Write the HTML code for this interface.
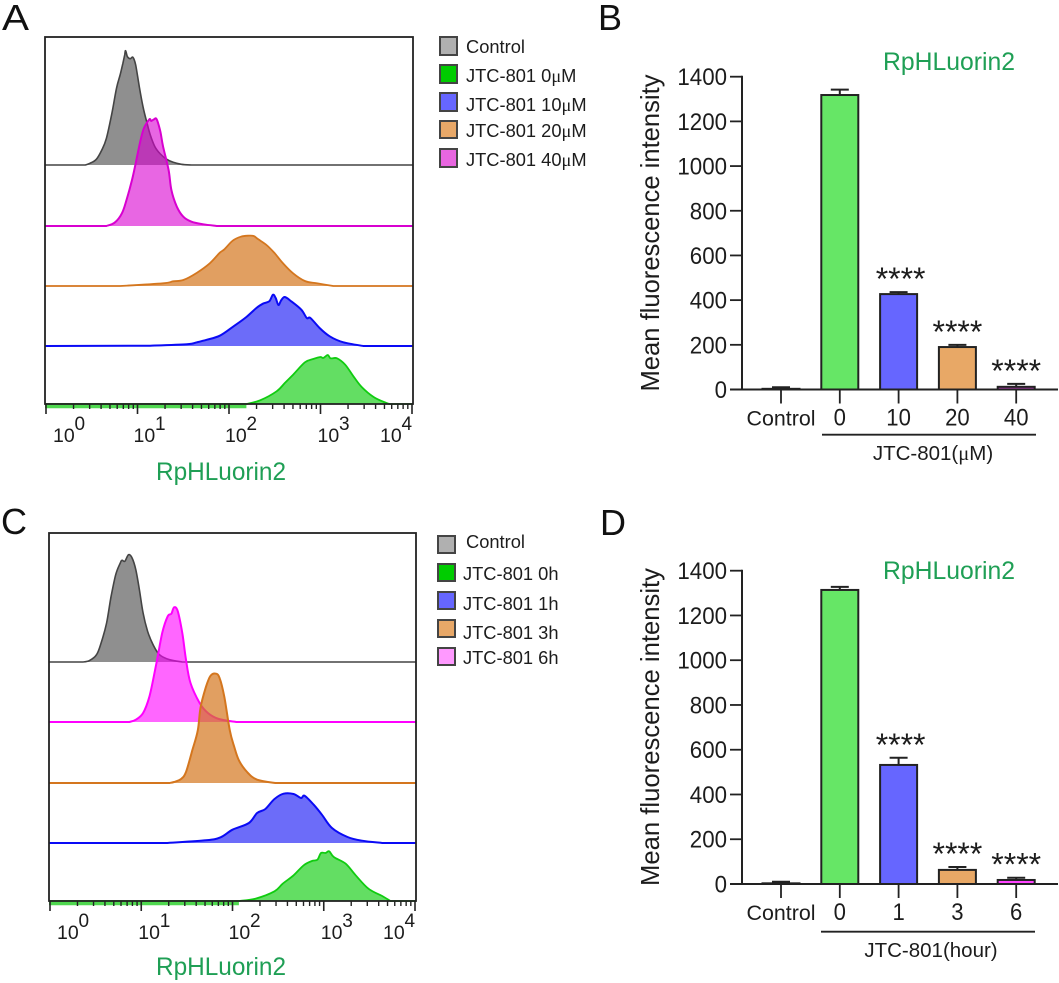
<!DOCTYPE html>
<html lang="en">
<head>
<meta charset="utf-8">
<title>RpHLuorin2 flow cytometry and mean fluorescence intensity</title>
<style>
html,body{margin:0;padding:0;background:#fff;}
svg{display:block;filter:blur(0.35px);}
text{font-family:"Liberation Sans",sans-serif;fill:#1c1c1c;}
.letter{font-size:36px;fill:#111;}
.leg{font-size:18.3px;}
.mu{font-family:"Liberation Serif",serif;}
.tt{font-size:24.7px;fill:#1f9f55;}
.xl{font-size:20.5px;}
.yt{font-size:26px;}
.sw{stroke:#444;stroke-width:2;}
</style>
</head>
<body>
<svg id="chart" xmlns="http://www.w3.org/2000/svg" width="1059" height="983" viewBox="0 0 1059 983">
  <rect x="0" y="0" width="1059" height="983" fill="#fff"/>
  <text class="letter" x="2" y="30" textLength="27" lengthAdjust="spacingAndGlyphs">A</text>
  <text class="letter" x="598" y="30">B</text>
  <text class="letter" x="1" y="534">C</text>
  <text class="letter" x="600" y="535">D</text>

  <g id="histA"></g>
  <g id="histC"></g>
  <g id="barB"></g>
  <g id="barD"></g>

  <text class="tt" x="221" y="480" text-anchor="middle" textLength="130" lengthAdjust="spacingAndGlyphs">RpHLuorin2</text>
  <text class="tt" x="221" y="975" text-anchor="middle" textLength="130" lengthAdjust="spacingAndGlyphs">RpHLuorin2</text>

  <g>
    <rect class="sw" x="440" y="37" width="17" height="18" fill="#b0b0b0"/>
    <text class="leg" x="466" y="53">Control</text>
    <rect class="sw" x="440" y="65" width="17" height="18" fill="#00cc00"/>
    <text class="leg" x="466" y="82">JTC-801 0<tspan class="mu">μ</tspan>M</text>
    <rect class="sw" x="440" y="93" width="17" height="18" fill="#6666ff"/>
    <text class="leg" x="466" y="111">JTC-801 10<tspan class="mu">μ</tspan>M</text>
    <rect class="sw" x="440" y="121" width="17" height="17" fill="#e8a868"/>
    <text class="leg" x="466" y="137">JTC-801 20<tspan class="mu">μ</tspan>M</text>
    <rect class="sw" x="440" y="149" width="17" height="18" fill="#e866e0"/>
    <text class="leg" x="466" y="166">JTC-801 40<tspan class="mu">μ</tspan>M</text>
  </g>

  <g>
    <rect class="sw" x="438" y="536" width="17" height="17" fill="#b0b0b0"/>
    <text class="leg" x="466" y="548">Control</text>
    <rect class="sw" x="438" y="564" width="17" height="17" fill="#00cc00"/>
    <text class="leg" x="463" y="580">JTC-801 0h</text>
    <rect class="sw" x="438" y="592" width="17" height="17" fill="#6666ff"/>
    <text class="leg" x="463" y="610">JTC-801 1h</text>
    <rect class="sw" x="438" y="620" width="17" height="17" fill="#e8a868"/>
    <text class="leg" x="463" y="639">JTC-801 3h</text>
    <rect class="sw" x="438" y="648" width="17" height="17" fill="#ff99ff"/>
    <text class="leg" x="463" y="664">JTC-801 6h</text>
  </g>

  <text class="tt" x="949" y="70" text-anchor="middle" textLength="132" lengthAdjust="spacingAndGlyphs">RpHLuorin2</text>
  <text class="tt" x="949" y="579" text-anchor="middle" textLength="132" lengthAdjust="spacingAndGlyphs">RpHLuorin2</text>
  <text class="yt" transform="translate(659,233) rotate(-90)" text-anchor="middle" textLength="317" lengthAdjust="spacingAndGlyphs">Mean fluorescence intensity</text>
  <text class="yt" transform="translate(659,727) rotate(-90)" text-anchor="middle" textLength="318" lengthAdjust="spacingAndGlyphs">Mean fluorescence intensity</text>
  <text class="xl" x="933" y="460" text-anchor="middle">JTC-801(<tspan class="mu">μ</tspan>M)</text>
  <text class="xl" x="931" y="957" text-anchor="middle">JTC-801(hour)</text>
</svg>

<script>
// ---------- Histogram data: x = log10 fluorescence, y = normalised event count ----------
const aControlLog = [.43,.48,.55,.61,.66,.72,.77,.81,.84,.86,.87,.89,.92,.95,.98,1.02,1.06,1.10,1.14,1.19,1.25,1.32,1.39,1.48,1.59];
const aControlCount = [0,1.7,5.7,15,26.7,51.7,76.7,90,101.7,110,114.3,108.3,106.3,107.7,100,78.3,58.3,43.3,30,18.3,11,5.7,2.7,.7,0];
const a40Log = [.66,.75,.83,.88,.94,.98,1.03,1.07,1.13,1.15,1.18,1.21,1.25,1.28,1.34,1.37,1.43,1.50,1.59,1.72,1.87];
const a40Count = [0,3.3,12.7,26,46,62.7,84.3,97.7,106.7,105,106.7,106.7,94.3,79.3,56,36,19.3,9.3,4.3,1.7,0];
const a20Log = [.81,1.28,1.39,1.50,1.65,1.79,1.90,1.95,2.04,2.13,2.21,2.27,2.32,2.41,2.50,2.59,2.70,2.83,2.96,3.14];
const a20Count = [0,2.7,4.7,6,13.3,22.7,33.3,36.7,45.3,49.3,50.3,50,46.7,41,32.7,22.7,12.7,5,2.7,0];
const a10Log = [1.14,1.54,1.65,1.76,1.90,2.05,2.19,2.30,2.37,2.44,2.48,2.51,2.54,2.57,2.61,2.68,2.79,2.85,2.89,2.99,3.10,3.25,3.47];
const a10Count = [.3,1.7,3.7,6.3,10.3,19.7,29,38,42.3,44.7,51.3,48,41,45.7,49,44.7,36.3,28,28,18,9.7,3.7,0];
const a0Log = [2.19,2.34,2.52,2.61,2.70,2.83,2.92,3.0,3.03,3.08,3.11,3.18,3.27,3.36,3.45,3.58,3.72,3.76];
const a0Count = [0,3.7,12.7,21,29.3,41.7,45,47,46,49,45.7,45.7,39.3,27.7,17,7,1,0];

const cControlLog = [.36,.43,.51,.56,.62,.67,.72,.77,.79,.82,.86,.90,.94,.98,1.02,1.07,1.13,1.20,1.31,1.45];
const cControlCount = [0,1.3,7.3,19,39,65.7,87.3,99,101.7,100.7,107.3,104,92.3,72.3,49,30.7,17.3,7.3,2.3,0];
const c6Log = [.87,.94,1.02,1.09,1.16,1.23,1.29,1.33,1.36,1.40,1.45,1.49,1.54,1.64,1.73,1.85,2.04];
const c6Count = [0,2.3,9,25.7,55.7,89,105.7,108.3,114.7,110.7,89,62.3,39,19,9,3,0];
const c3Log = [1.31,1.36,1.44,1.49,1.56,1.62,1.65,1.71,1.76,1.82,1.86,1.91,1.97,2.02,2.07,2.16,2.27,2.47];
const c3Count = [0,1,4.3,11,32.7,52.7,75.7,96.3,107.3,109.3,104.7,86.3,52.7,36,22.7,11,3.3,0];
const c1Log = [1.27,1.71,1.87,2.0,2.18,2.27,2.36,2.46,2.56,2.67,2.75,2.79,2.89,2.98,3.09,3.26,3.42,3.64];
const c1Count = [0,2.7,5.7,13.3,20,30,34,44,49.3,49,45,47.3,38.3,28.3,15,6,2.3,0];
const c0Log = [2.07,2.25,2.46,2.55,2.67,2.78,2.87,2.93,2.97,3.02,3.06,3.11,3.24,3.35,3.49,3.64,3.73];
const c0Count = [0,2.3,9.7,17.3,25.7,35.7,40,41.3,48,48,49.7,44,37.3,25.7,12.3,5,0];

const logDecades = [0,1,2,3,4];
const logMinorMultipliers = [2,3,4,5,6,7,8,9];

// ---------- Bar chart data ----------
const yTicks = [0,200,400,600,800,1000,1200,1400];
const bCategories = ["Control","0","10","20","40"];
const bValues = [3,1318,427,190,12];
const bErrorTops = [10,1342,436,200,25];
const bStars = ["","","****","****","****"];
const dCategories = ["Control","0","1","3","6"];
const dValues = [3,1314,532,63,18];
const dErrorTops = [10,1328,564,76,28];
const dStars = ["","","****","****","****"];

// ---------- Drawing helpers ----------
const NS = "http://www.w3.org/2000/svg";
function mk(tag, parent, props){
  const el = document.createElementNS(NS, tag);
  for (const k in props) el.setAttribute(k, props[k]);
  parent.appendChild(el);
  return el;
}

// Smooth curve through screen points (Catmull-Rom to cubic Bezier)
function smoothSegments(p){
  let d = "";
  for (let i = 0; i < p.length - 1; i++) {
    const a = p[Math.max(i - 1, 0)], b = p[i], c = p[i + 1], e = p[Math.min(i + 2, p.length - 1)];
    const c1x = b[0] + (c[0] - a[0]) / 6, c1y = b[1] + (c[1] - a[1]) / 6;
    const c2x = c[0] - (e[0] - b[0]) / 6, c2y = c[1] - (e[1] - b[1]) / 6;
    d += " C" + c1x.toFixed(1) + "," + c1y.toFixed(1) + " " + c2x.toFixed(1) + "," + c2y.toFixed(1) + " " + c[0].toFixed(1) + "," + c[1].toFixed(1);
  }
  return d;
}

function drawHistogram(rootId, box, series, decadeLabelOffsets){
  const root = document.getElementById(rootId);
  const xScale = function(logValue){ return box.x0 + logValue * box.decade; };
  series.forEach(function(s){
    const yScale = function(count){ return s.base - count; };
    const screen = s.logs.map(function(v, i){ return [xScale(v), yScale(s.counts[i])]; });
    const curve = smoothSegments(screen);
    const start = screen[0][0].toFixed(1) + "," + screen[0][1].toFixed(1);
    const fill = mk("path", root, {d:"M" + start + curve + " L" + screen[screen.length - 1][0].toFixed(1) + "," + s.base + " L" + screen[0][0].toFixed(1) + "," + s.base + " Z", fill:s.color, "fill-opacity":s.alpha, stroke:"none"});
    
    
    const line = mk("path", root, {d:"M" + box.left + "," + s.base + " L" + start + curve + " L" + box.right + "," + s.base, fill:"none", stroke:s.color, "stroke-width":s.width, "stroke-linejoin":"round"});
    
    
  });
  const last = series[series.length - 1];
  const band = mk("line", root, {x1:box.left, x2:xScale(last.logs[0]).toFixed(1), y1:box.bottom + 2.5, y2:box.bottom + 2.5, stroke:"#4fd84f", "stroke-width":3.5});
  
  
  const frame = mk("rect", root, {x:box.left, y:box.top, width:box.right - box.left, height:box.bottom - box.top, fill:"none", stroke:"#222", "stroke-width":1.8});
  
  
  logDecades.forEach(function(d, i){
    const tick = mk("line", root, {x1:xScale(d), x2:xScale(d), y1:box.bottom, y2:box.bottom + 10, stroke:"#222", "stroke-width":1.6});
    
    
    if (d < 4) logMinorMultipliers.forEach(function(m){
      const mx = xScale(d + Math.log10(m));
      const minor = mk("line", root, {x1:mx, x2:mx, y1:box.bottom, y2:box.bottom + 5, stroke:"#222", "stroke-width":1.4});
      
      
    });
    const lx = xScale(d) + decadeLabelOffsets[i];
    const base = mk("text", root, {x:lx, y:box.bottom + 38, "font-size":19.5});
    base.textContent = "10";
    
    
    const sup = mk("text", root, {x:lx + 21.5, y:box.bottom + 26, "font-size":19});
    sup.textContent = String(d);
    
    
  });
}

function drawBars(rootId, geo, categories, values, errorTops, stars, fills){
  const root = document.getElementById(rootId);
  const yScale = function(v){ return geo.y0 - v * (geo.y0 - geo.y1400) / 1400; };
  const xScale = function(i){ return geo.xFirst + i * geo.step; };
  values.forEach(function(v, i){
    const cx = xScale(i);
    const err = mk("path", root, {d:"M" + cx + "," + yScale(v) + " V" + yScale(errorTops[i]) + " M" + (cx - 9) + "," + yScale(errorTops[i]) + " H" + (cx + 9), stroke:"#222", "stroke-width":2, fill:"none"});
    
    
    const bar = mk("rect", root, {x:cx - 18.5, y:yScale(v), width:37, height:geo.y0 - yScale(v), fill:fills[i], stroke:"#222", "stroke-width":2});
    
    
    const tick = mk("line", root, {x1:cx, x2:cx, y1:geo.y0, y2:geo.y0 + 14, stroke:"#222", "stroke-width":1.8});
    
    
    const label = mk("text", root, {x:cx, y:geo.y0 + 36, "text-anchor":"middle", "font-size":i === 0 ? 21.4 : 24});
    if (i > 0) {
      label.setAttribute("textLength", 12.3 * categories[i].length);
      label.setAttribute("lengthAdjust", "spacingAndGlyphs");
    }
    label.textContent = categories[i];
    
    
    if (stars[i]) {
      const star = mk("text", root, {x:cx + (i === 2 ? 2 : 0), y:yScale(errorTops[i]) - 20.5 + 18.5, "text-anchor":"middle", "font-size":32});
      star.textContent = stars[i];
      
      
    }
  });
  yTicks.forEach(function(t){
    const tick = mk("line", root, {x1:geo.xAxis - 12, x2:geo.xAxis, y1:yScale(t), y2:yScale(t), stroke:"#222", "stroke-width":1.8});
    
    
    const label = mk("text", root, {x:geo.xAxis - 15, y:yScale(t) + 8.5, "text-anchor":"end", "font-size":24, textLength:12.4 * String(t).length, lengthAdjust:"spacingAndGlyphs"});
    label.textContent = String(t);
    
    
  });
  const yAxis = mk("line", root, {x1:geo.xAxis, x2:geo.xAxis, y1:yScale(1400) - 1, y2:geo.y0, stroke:"#222", "stroke-width":2});
  
  
  const xAxis = mk("line", root, {x1:geo.xAxis - 12, x2:1058, y1:geo.y0, y2:geo.y0, stroke:"#222", "stroke-width":2});
  
  
  const rule = mk("line", root, {x1:geo.ruleStart, x2:geo.ruleEnd, y1:geo.ruleY, y2:geo.ruleY, stroke:"#222", "stroke-width":1.8});
  
  
}

// ---------- Panels ----------
drawHistogram("histA", {x0:46, decade:91.5, left:45, right:413, top:37, bottom:404}, [
  {name:"control", logs:aControlLog, counts:aControlCount, base:165, color:"#444444", alpha:.6, width:1.6},
  {name:"jtc-40um", logs:a40Log, counts:a40Count, base:226, color:"#d800d0", alpha:.6, width:2},
  {name:"jtc-20um", logs:a20Log, counts:a20Count, base:286, color:"#d4761e", alpha:.7, width:1.8},
  {name:"jtc-10um", logs:a10Log, counts:a10Count, base:346, color:"#0a0af5", alpha:.6, width:2},
  {name:"jtc-0um", logs:a0Log, counts:a0Count, base:404, color:"#10cc10", alpha:.65, width:1.8}
], [7,-4,-4,-3,-32]);

drawHistogram("histC", {x0:50, decade:91.25, left:49, right:416, top:533, bottom:901}, [
  {name:"control", logs:cControlLog, counts:cControlCount, base:662, color:"#444444", alpha:.6, width:1.6},
  {name:"jtc-6h", logs:c6Log, counts:c6Count, base:722, color:"#ff00ff", alpha:.6, width:2},
  {name:"jtc-3h", logs:c3Log, counts:c3Count, base:783, color:"#d4761e", alpha:.7, width:2},
  {name:"jtc-1h", logs:c1Log, counts:c1Count, base:843, color:"#0a0af5", alpha:.6, width:2},
  {name:"jtc-0h", logs:c0Log, counts:c0Count, base:901, color:"#10cc10", alpha:.65, width:1.8}
], [7,-3,-4,-3,-32]);

drawBars("barB", {y0:389.5, y1400:76.7, xAxis:742, xFirst:781, step:58.8, ruleStart:822, ruleEnd:1036, ruleY:434.7},
  bCategories, bValues, bErrorTops, bStars, ["#ffffff","#66e666","#6666ff","#e8a866","#c040c0"]);
drawBars("barD", {y0:884, y1400:570.7, xAxis:742, xFirst:781, step:58.8, ruleStart:821, ruleEnd:1035, ruleY:931.7},
  dCategories, dValues, dErrorTops, dStars, ["#ffffff","#66e666","#6666ff","#e8a866","#ff44ff"]);
</script>
</body>
</html>
